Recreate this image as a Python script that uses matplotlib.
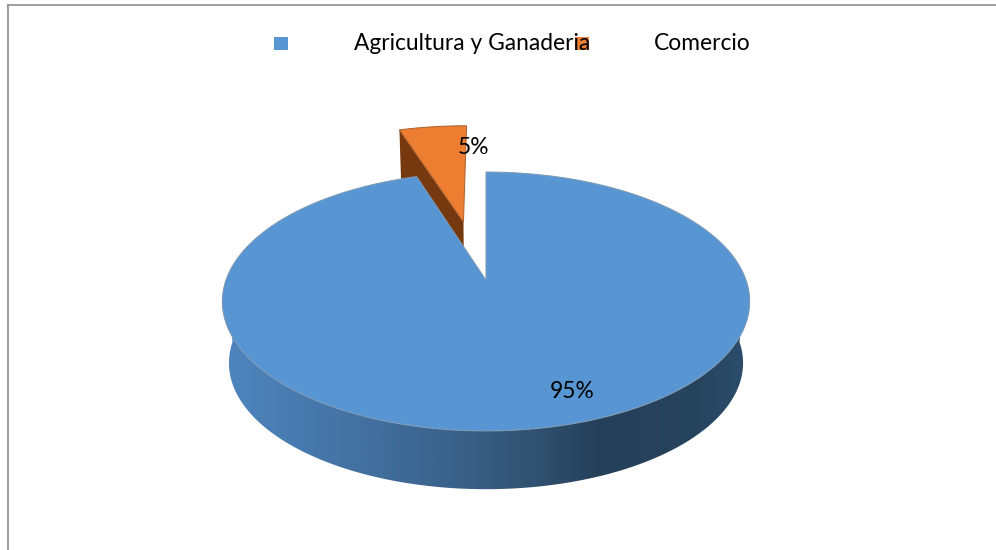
import numpy as np
import matplotlib
matplotlib.use("Agg")
import matplotlib.pyplot as plt
from matplotlib.patches import Polygon, Rectangle
from matplotlib.colors import LinearSegmentedColormap

categories = ["Agricultura y Ganaderia", "Comercio"]
shares = [95, 5]
labels = ["95%", "5%"]
colors = ["#5896D3", "#ED7D31"]

W, H = 996, 550
fig = plt.figure(figsize=(W / 100, H / 100), dpi=100)
ax = fig.add_axes([0, 0, 1, 1])
ax.set_xlim(0, W)
ax.set_ylim(H, 0)
ax.axis("off")

CX, CY, A, B, K = 486.0, 280.0, 260.0, 125.9, 0.166
DEPTH_S, DEPTH_Y = 0.975, 342.0
EXPLODE = 0.504
SMALL_R = 1.04


def project(X, Y, bottom=False):
    d = 1 + K * np.asarray(Y)
    px, py = CX + A * np.asarray(X) / d, CY - B * np.asarray(Y) / d
    if bottom:
        px = CX + DEPTH_S * (px - CX)
        py = DEPTH_Y + DEPTH_S * (py - CY)
    return px, py


def rim(t0, t1, n=300):
    t = np.radians(np.linspace(t0, t1, n))
    return np.sin(t), np.cos(t)


def sector(t0, t1, ox=0.0, oy=0.0, r=1.0, bottom=False):
    X, Y = rim(t0, t1)
    X = np.r_[ox, r * X + ox]
    Y = np.r_[oy, r * Y + oy]
    px, py = project(X, Y, bottom)
    return np.c_[px, py]


share_big, share_small = shares
small_deg = 360 * share_small / sum(shares)
mid = np.radians(-small_deg / 2)
ox, oy = EXPLODE * np.sin(mid), EXPLODE * np.cos(mid)
ox -= 0.015

# Frame
ax.plot([8, 8], [H, 5], color="#8c8c8c", lw=1.2, zorder=1)
ax.plot([8, W], [5, 5], color="#8c8c8c", lw=1.2, zorder=1)

# Orange wedge: cut wall, then top
ex = ox + SMALL_R * np.sin(np.radians(-small_deg))
ey = oy + SMALL_R * np.cos(np.radians(-small_deg))
a = np.array(project([ox, ex], [oy, ey])).T
b = np.array(project([ox, ex], [oy, ey], True)).T
ax.add_patch(Polygon(np.vstack([a, b[::-1]]), fc="#76390F", ec="none", zorder=2))
ax.add_patch(Polygon(sector(-small_deg, 0, ox, oy, SMALL_R), fc=colors[1],
                     ec="#A9622F", lw=0.7, zorder=3))

# Blue outer wall with horizontal gradient
X, Y = rim(90, 270)
tx, ty = project(X, Y)
bx, by = project(X, Y, True)
wall = Polygon(np.r_[np.c_[tx, ty], np.c_[bx, by][::-1]], fc="none", ec="none",
               transform=ax.transData)
ax.add_patch(wall)
cmap = LinearSegmentedColormap.from_list("wall", [
    (0.00, "#4F86C0"), (0.20, "#4676A8"), (0.40, "#3C658F"),
    (0.55, "#345778"), (0.72, "#243F59"), (0.90, "#27445F"), (1.00, "#2C4E6E")])
im = ax.imshow(np.linspace(0, 1, 512)[None, :], cmap=cmap, aspect="auto",
               extent=[tx.min() - 2, tx.max() + 2, 500, 280], zorder=4)
im.set_clip_path(wall)
ax.set_xlim(0, W)
ax.set_ylim(H, 0)

# Blue top
ax.add_patch(Polygon(sector(0, 360 * share_big / sum(shares)), fc=colors[0],
                     ec="#7F99B2", lw=0.7, zorder=5))

# Labels
ax.text(572.5, 392, labels[0], ha="center", va="center", fontsize=16.4,
        family="Lato", color="black", zorder=7)
ax.text(473, 147, labels[1], ha="center", va="center", fontsize=16.4,
        family="Lato", color="black", zorder=7)

# Legend
ax.add_patch(Rectangle((274, 37), 14, 13, fc=colors[0], ec="none", zorder=5))
ax.add_patch(Rectangle((575, 37), 14, 13, fc=colors[1], ec="none", zorder=5))
ax.text(354, 44, categories[0], ha="left", va="center", fontsize=16.4,
        family="Lato", color="black", zorder=7)
ax.text(654, 44, categories[1], ha="left", va="center", fontsize=16.4,
        family="Lato", color="black", zorder=7)

fig.savefig("out.png", dpi=100)
